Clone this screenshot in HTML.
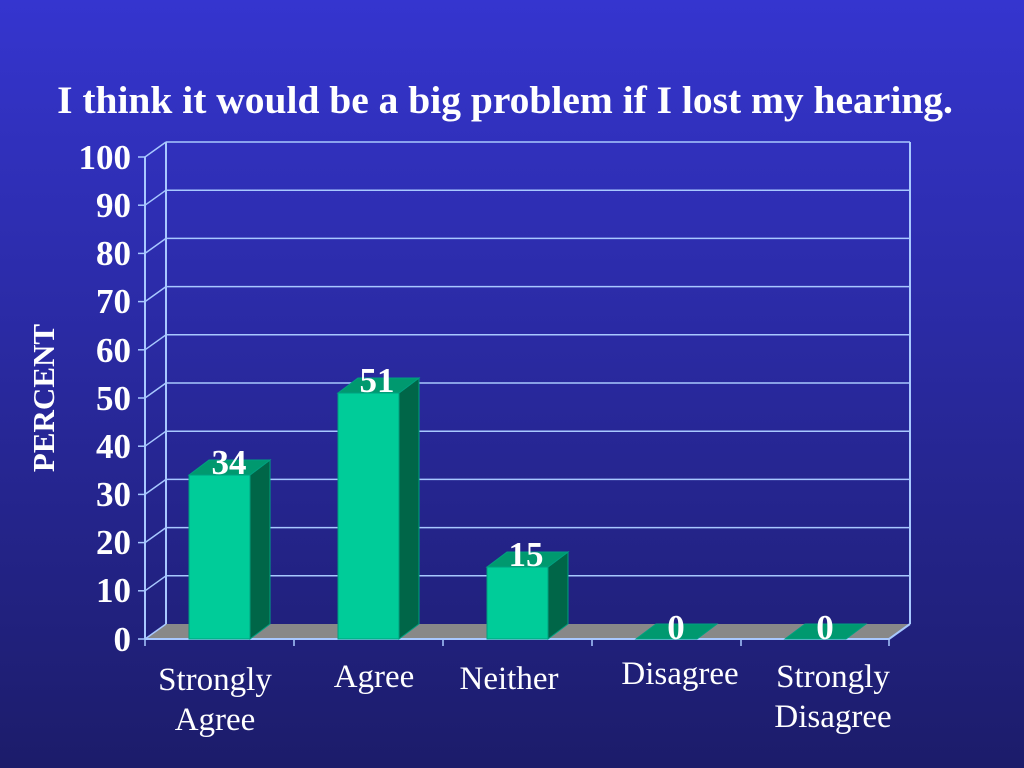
<!DOCTYPE html>
<html><head><meta charset="utf-8"><style>
html,body{margin:0;padding:0}
body{width:1024px;height:768px;overflow:hidden;background:linear-gradient(#3535cf,#1c1c6a);font-family:"Liberation Serif",serif}
svg{display:block}
</style></head><body>
<svg width="1024" height="768" xmlns="http://www.w3.org/2000/svg" font-family="Liberation Serif, serif">
<text x="505" y="113" text-anchor="middle" fill="#fff" font-size="39.5" font-weight="bold">I think it would be a big problem if I lost my hearing.</text>
<polygon points="145,639 889,639 910,624 166,624" fill="#888"/>
<g stroke="#a8c8ff" stroke-width="2" fill="none">
<line x1="166" y1="142" x2="166" y2="624"/>
<line x1="910" y1="142" x2="910" y2="624"/>
<line x1="145" y1="157" x2="145" y2="639"/>
<line x1="145" y1="639" x2="889" y2="639"/>
<line x1="889" y1="639" x2="910" y2="624"/>
</g>
<g stroke="#a8c8ff" stroke-width="1.5">
<line x1="166" y1="142" x2="910" y2="142"/><line x1="166" y1="190.2" x2="910" y2="190.2"/><line x1="166" y1="238.4" x2="910" y2="238.4"/><line x1="166" y1="286.6" x2="910" y2="286.6"/><line x1="166" y1="334.8" x2="910" y2="334.8"/><line x1="166" y1="383" x2="910" y2="383"/><line x1="166" y1="431.2" x2="910" y2="431.2"/><line x1="166" y1="479.4" x2="910" y2="479.4"/><line x1="166" y1="527.6" x2="910" y2="527.6"/><line x1="166" y1="575.8" x2="910" y2="575.8"/>
<line x1="145" y1="157" x2="166" y2="142"/><line x1="145" y1="205.2" x2="166" y2="190.2"/><line x1="145" y1="253.4" x2="166" y2="238.4"/><line x1="145" y1="301.6" x2="166" y2="286.6"/><line x1="145" y1="349.8" x2="166" y2="334.8"/><line x1="145" y1="398" x2="166" y2="383"/><line x1="145" y1="446.2" x2="166" y2="431.2"/><line x1="145" y1="494.4" x2="166" y2="479.4"/><line x1="145" y1="542.6" x2="166" y2="527.6"/><line x1="145" y1="590.8" x2="166" y2="575.8"/><line x1="145" y1="639" x2="166" y2="624"/>
<line x1="138" y1="157" x2="145" y2="157"/><line x1="138" y1="205.2" x2="145" y2="205.2"/><line x1="138" y1="253.4" x2="145" y2="253.4"/><line x1="138" y1="301.6" x2="145" y2="301.6"/><line x1="138" y1="349.8" x2="145" y2="349.8"/><line x1="138" y1="398" x2="145" y2="398"/><line x1="138" y1="446.2" x2="145" y2="446.2"/><line x1="138" y1="494.4" x2="145" y2="494.4"/><line x1="138" y1="542.6" x2="145" y2="542.6"/><line x1="138" y1="590.8" x2="145" y2="590.8"/><line x1="138" y1="639" x2="145" y2="639"/>
<line x1="145" y1="639" x2="145" y2="646"/><line x1="294" y1="639" x2="294" y2="646"/><line x1="443" y1="639" x2="443" y2="646"/><line x1="592" y1="639" x2="592" y2="646"/><line x1="741" y1="639" x2="741" y2="646"/><line x1="889" y1="639" x2="889" y2="646"/>
</g>
<g stroke="#00a080" stroke-width="1">
<rect x="189" y="475" width="61" height="164" fill="#00cc99"/><polygon points="250,475 270,460 270,624 250,639" fill="#006648"/><polygon points="189,475 209,460 270,460 250,475" fill="#00996f"/>
<rect x="338" y="393" width="61" height="246" fill="#00cc99"/><polygon points="399,393 419,378 419,624 399,639" fill="#006648"/><polygon points="338,393 358,378 419,378 399,393" fill="#00996f"/>
<rect x="487" y="567" width="61" height="72" fill="#00cc99"/><polygon points="548,567 568,552 568,624 548,639" fill="#006648"/><polygon points="487,567 507,552 568,552 548,567" fill="#00996f"/>
<polygon points="636,639 656,624 717,624 697,639" fill="#00996f"/>
<polygon points="785,639 805,624 866,624 846,639" fill="#00996f"/>
</g>
<g fill="#fff" font-size="35" font-weight="bold" text-anchor="middle">
<text x="229" y="474">34</text><text x="377" y="392">51</text><text x="526" y="566">15</text><text x="676" y="639">0</text><text x="825" y="639">0</text>
</g>
<g fill="#fff" font-size="35" font-weight="bold" text-anchor="end">
<text x="131" y="169">100</text><text x="131" y="217">90</text><text x="131" y="265">80</text><text x="131" y="313">70</text><text x="131" y="362">60</text><text x="131" y="410">50</text><text x="131" y="458">40</text><text x="131" y="506">30</text><text x="131" y="554">20</text><text x="131" y="602">10</text><text x="131" y="651">0</text>
</g>
<text transform="translate(54,398) rotate(-90)" text-anchor="middle" fill="#fff" font-size="31" font-weight="bold">PERCENT</text>
<g fill="#fff" font-size="33" text-anchor="middle">
<text x="215" y="690">Strongly</text><text x="215" y="730">Agree</text>
<text x="374" y="687">Agree</text>
<text x="509" y="689">Neither</text>
<text x="680" y="684">Disagree</text>
<text x="833" y="687">Strongly</text><text x="833" y="727">Disagree</text>
</g>
</svg>
</body></html>
